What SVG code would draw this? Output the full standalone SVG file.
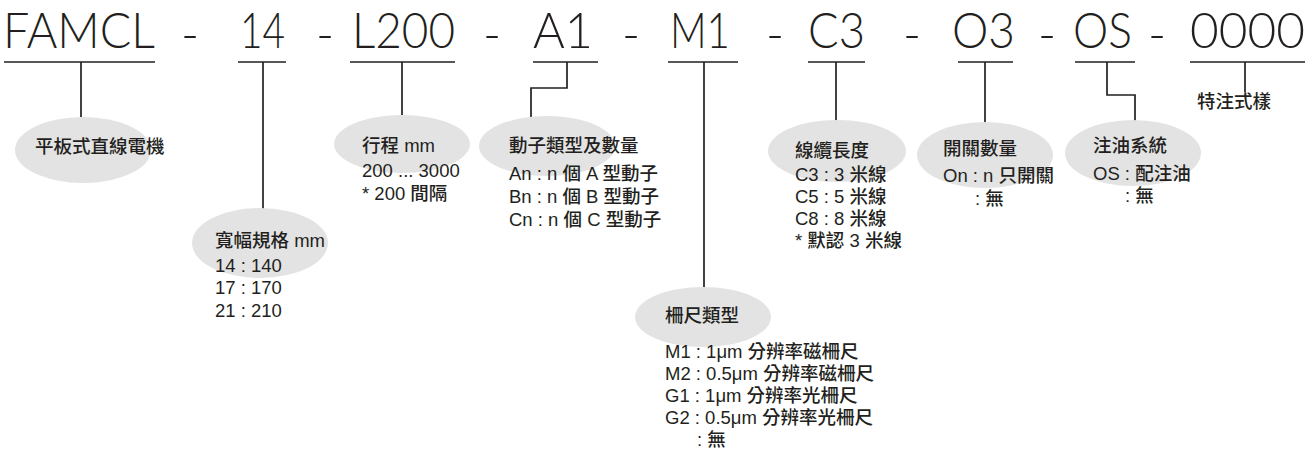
<svg xmlns="http://www.w3.org/2000/svg" width="1315" height="452" viewBox="0 0 1315 452">
<style>
.hd{font-family:"Lato","Liberation Sans",sans-serif;font-weight:300;font-size:49px;fill:#231f20}
.dash{font-family:"Lato","Liberation Sans",sans-serif;font-weight:300;font-size:49px;fill:#231f20;text-anchor:middle}
.t{font-family:"Liberation Sans","Noto Sans CJK TC",sans-serif;font-weight:500;font-size:18.5px;fill:#231f20}
.b{font-family:"Liberation Sans","Noto Sans CJK TC",sans-serif;font-weight:500;font-size:18.5px;fill:#231f20}
.el{fill:#e3e3e3}
.ln{stroke:#231f20;stroke-width:1.7;fill:none}
</style>
<rect width="1315" height="452" fill="#ffffff"/>
<g id="header">
<text class="hd" x="3" y="48" textLength="152" lengthAdjust="spacingAndGlyphs">FAMCL</text>
<text class="dash" x="190" y="52">-</text>
<text class="hd" x="240" y="48" textLength="45" lengthAdjust="spacingAndGlyphs">14</text>
<text class="dash" x="325" y="52">-</text>
<text class="hd" x="352" y="48" textLength="103" lengthAdjust="spacingAndGlyphs">L200</text>
<text class="dash" x="492" y="52">-</text>
<text class="hd" x="533" y="48" textLength="60" lengthAdjust="spacingAndGlyphs">A1</text>
<text class="dash" x="631" y="52">-</text>
<text class="hd" x="670" y="48" textLength="60" lengthAdjust="spacingAndGlyphs">M1</text>
<text class="dash" x="775" y="52">-</text>
<text class="hd" x="808" y="48" textLength="57" lengthAdjust="spacingAndGlyphs">C3</text>
<text class="dash" x="912" y="52">-</text>
<text class="hd" x="952" y="48" textLength="63" lengthAdjust="spacingAndGlyphs">O3</text>
<text class="dash" x="1047" y="52">-</text>
<text class="hd" x="1073" y="48" textLength="59" lengthAdjust="spacingAndGlyphs">OS</text>
<text class="dash" x="1157" y="52">-</text>
<text class="hd" x="1190" y="48" textLength="115" lengthAdjust="spacingAndGlyphs">0000</text>
</g>
<g id="connectors">
<line class="ln" x1="4" y1="62" x2="155" y2="62"/>
<line class="ln" x1="81" y1="62" x2="81" y2="117"/>
<line class="ln" x1="238" y1="62" x2="286" y2="62"/>
<line class="ln" x1="263" y1="62" x2="263" y2="209"/>
<line class="ln" x1="350" y1="62" x2="455" y2="62"/>
<line class="ln" x1="402" y1="62" x2="402" y2="116"/>
<line class="ln" x1="533" y1="62" x2="598" y2="62"/>
<path class="ln" d="M567,62 V88 H531 V117"/>
<line class="ln" x1="668" y1="62" x2="738" y2="62"/>
<line class="ln" x1="704" y1="62" x2="704" y2="288"/>
<line class="ln" x1="808" y1="62" x2="865" y2="62"/>
<line class="ln" x1="836" y1="62" x2="836" y2="121"/>
<line class="ln" x1="958" y1="62" x2="1013" y2="62"/>
<line class="ln" x1="985" y1="62" x2="985" y2="123"/>
<line class="ln" x1="1075" y1="62" x2="1135" y2="62"/>
<path class="ln" d="M1107,62 V95 H1135 V121"/>
<line class="ln" x1="1190" y1="62" x2="1305" y2="62"/>
<line class="ln" x1="1245" y1="62" x2="1245" y2="92"/>
</g>
<g id="node-famcl">
<ellipse class="el" cx="83" cy="150" rx="68" ry="33"/>
<text class="t" x="35" y="153">平板式直線電機</text>
</g>
<g id="node-width">
<ellipse class="el" cx="260" cy="243" rx="68" ry="35"/>
<text class="t" x="215" y="247">寬幅規格 mm</text>
<text class="b" x="215" y="272">14 : 140</text>
<text class="b" x="215" y="294">17 : 170</text>
<text class="b" x="215" y="317">21 : 210</text>
</g>
<g id="node-stroke">
<ellipse class="el" cx="402" cy="144" rx="68" ry="29"/>
<text class="t" x="362" y="152">行程 mm</text>
<text class="b" x="362" y="177">200 ... 3000</text>
<text class="b" x="362" y="200">* 200 間隔</text>
</g>
<g id="node-mover">
<ellipse class="el" cx="547" cy="146" rx="68" ry="30"/>
<text class="t" x="509" y="152">動子類型及數量</text>
<text class="b" x="509" y="180">An : n 個 A 型動子</text>
<text class="b" x="509" y="203">Bn : n 個 B 型動子</text>
<text class="b" x="509" y="226">Cn : n 個 C 型動子</text>
</g>
<g id="node-scale">
<ellipse class="el" cx="703" cy="317" rx="68" ry="30"/>
<text class="t" x="665" y="322">柵尺類型</text>
<text class="b" x="665" y="358">M1 : 1μm 分辨率磁柵尺</text>
<text class="b" x="665" y="380">M2 : 0.5μm 分辨率磁柵尺</text>
<text class="b" x="665" y="402">G1 : 1μm 分辨率光柵尺</text>
<text class="b" x="665" y="424">G2 : 0.5μm 分辨率光柵尺</text>
<text class="b" x="697" y="446">: 無</text>
</g>
<g id="node-cable">
<ellipse class="el" cx="837" cy="151" rx="69" ry="31"/>
<text class="t" x="795" y="157">線纜長度</text>
<text class="b" x="795" y="181">C3 : 3 米線</text>
<text class="b" x="795" y="203">C5 : 5 米線</text>
<text class="b" x="795" y="225">C8 : 8 米線</text>
<text class="b" x="795" y="247">* 默認 3 米線</text>
</g>
<g id="node-switch">
<ellipse class="el" cx="985" cy="155" rx="68" ry="33"/>
<text class="t" x="943" y="155">開關數量</text>
<text class="b" x="943" y="182">On : n 只開關</text>
<text class="b" x="975" y="205">: 無</text>
</g>
<g id="node-oil">
<ellipse class="el" cx="1133" cy="153" rx="68" ry="33"/>
<text class="t" x="1093" y="152">注油系統</text>
<text class="b" x="1093" y="180">OS : 配注油</text>
<text class="b" x="1125" y="202">: 無</text>
</g>
<g id="node-special">
<text class="t" x="1197" y="108">特注式樣</text>
</g>
</svg>
